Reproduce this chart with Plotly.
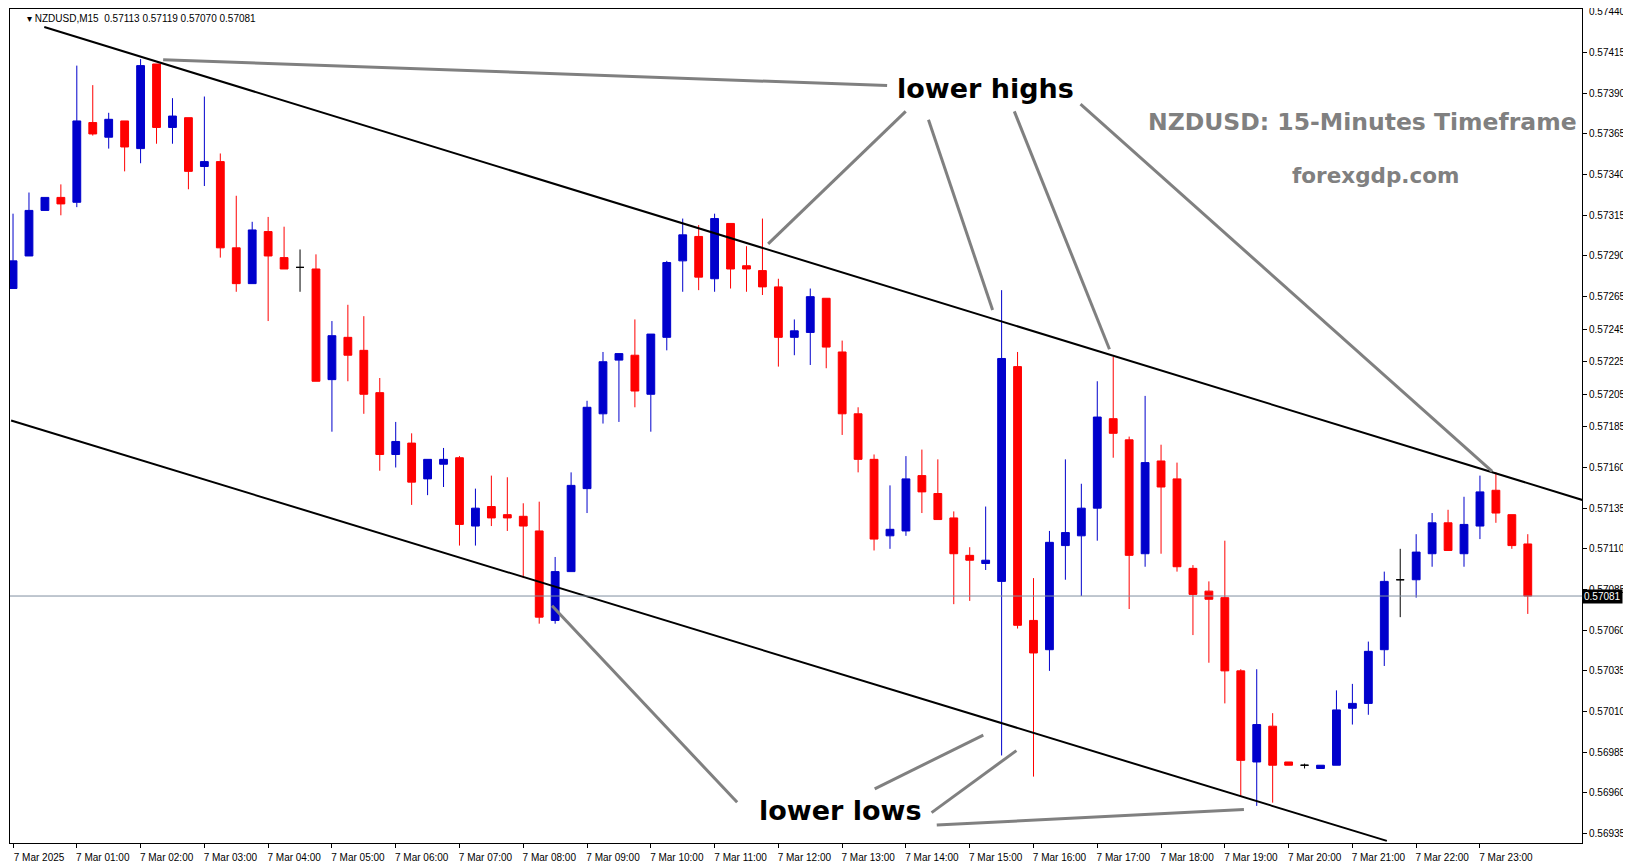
import plotly.graph_objects as go

# ---- data (NZDUSD M15, 7 Mar 2025, 00:00 .. 23:45) ----
opens = [0.57270,0.57290,0.57318,0.57326,0.57323,0.57372,0.57363,0.57373,0.57356,0.57408,
         0.57369,0.57375,0.57345,0.57348,0.57295,0.57273,0.57305,0.57289,0.57283,0.57282,
         0.57214,0.57240,0.57232,0.57206,0.57168,0.57175,0.57153,0.57162,0.57166,0.57124,
         0.57136,0.57131,0.57130,0.57121,0.57066,0.57096,0.57147,0.57193,0.57226,0.57229,
         0.57205,0.57240,0.57287,0.57302,0.57276,0.57310,0.57284,0.57281,0.57271,0.57240,
         0.57243,0.57264,0.57231,0.57193,0.57165,0.57118,0.57121,0.57155,0.57144,0.57129,
         0.57106,0.57101,0.57090,0.57222,0.57066,0.57048,0.57112,0.57118,0.57135,0.57190,
         0.57177,0.57107,0.57164,0.57153,0.57098,0.57084,0.57080,0.57035,0.56979,0.57001,
         0.56979,0.56977,0.56975,0.56977,0.57012,0.57015,0.57048,0.57091,0.57091,0.57107,
         0.57126,0.57107,0.57124,0.57146,0.57131,0.57113]
highs = [0.57316,0.57329,0.57326,0.57334,0.57407,0.57395,0.57378,0.57373,0.57411,0.57408,
         0.57387,0.57375,0.57388,0.57353,0.57327,0.57311,0.57314,0.57308,0.57294,0.57291,
         0.57250,0.57260,0.57253,0.57215,0.57188,0.57181,0.57165,0.57172,0.57167,0.57147,
         0.57155,0.57154,0.57138,0.57139,0.57105,0.57157,0.57201,0.57231,0.57230,0.57251,
         0.57242,0.57287,0.57313,0.57309,0.57316,0.57310,0.57296,0.57313,0.57276,0.57251,
         0.57270,0.57264,0.57238,0.57197,0.57168,0.57149,0.57167,0.57171,0.57165,0.57133,
         0.57111,0.57136,0.57269,0.57231,0.57092,0.57121,0.57165,0.57150,0.57213,0.57228,
         0.57179,0.57204,0.57174,0.57163,0.57100,0.57090,0.57115,0.57036,0.57036,0.57009,
         0.56979,0.56978,0.56977,0.57023,0.57027,0.57053,0.57096,0.57110,0.57119,0.57132,
         0.57134,0.57142,0.57155,0.57157,0.57131,0.57119]
lows  = [0.57270,0.57290,0.57318,0.57315,0.57320,0.57364,0.57356,0.57342,0.57347,0.57359,
         0.57359,0.57331,0.57333,0.57289,0.57268,0.57273,0.57250,0.57282,0.57268,0.57213,
         0.57182,0.57213,0.57193,0.57158,0.57160,0.57137,0.57143,0.57148,0.57112,0.57112,
         0.57124,0.57121,0.57092,0.57064,0.57064,0.57096,0.57132,0.57187,0.57188,0.57197,
         0.57182,0.57232,0.57268,0.57269,0.57268,0.57270,0.57268,0.57266,0.57222,0.57229,
         0.57223,0.57221,0.57180,0.57157,0.57109,0.57110,0.57118,0.57132,0.57128,0.57076,
         0.57078,0.57097,0.56983,0.57061,0.56970,0.57035,0.57091,0.57081,0.57115,0.57166,
         0.57073,0.57099,0.57107,0.57096,0.57057,0.57040,0.57015,0.56958,0.56952,0.56954,
         0.56977,0.56975,0.56975,0.56977,0.57002,0.57008,0.57038,0.57068,0.57080,0.57099,
         0.57109,0.57099,0.57116,0.57126,0.57110,0.57070]
closes = [0.57287,0.57318,0.57326,0.57322,0.57373,0.57365,0.57374,0.57357,0.57407,0.57369,
          0.57376,0.57342,0.57348,0.57295,0.57273,0.57306,0.57290,0.57282,0.57283,0.57213,
          0.57241,0.57229,0.57205,0.57168,0.57176,0.57151,0.57165,0.57165,0.57125,0.57135,
          0.57129,0.57129,0.57124,0.57068,0.57096,0.57149,0.57197,0.57225,0.57230,0.57207,
          0.57242,0.57286,0.57303,0.57277,0.57313,0.57282,0.57282,0.57271,0.57240,0.57244,
          0.57265,0.57234,0.57193,0.57165,0.57116,0.57122,0.57153,0.57145,0.57128,0.57107,
          0.57103,0.57103,0.57227,0.57063,0.57046,0.57114,0.57120,0.57135,0.57191,0.57181,
          0.57106,0.57163,0.57148,0.57099,0.57082,0.57079,0.57035,0.56980,0.57002,0.56977,
          0.56977,0.56977,0.56977,0.57011,0.57015,0.57047,0.57090,0.57091,0.57108,0.57126,
          0.57109,0.57125,0.57145,0.57132,0.57112,0.57081]
time_labels = ["7 Mar 2025"] + ["7 Mar %02d:00" % h for h in range(1, 24)]
price_ticks = [0.57440,0.57415,0.57390,0.57365,0.57340,0.57315,0.57290,0.57265,0.57245,0.57225,
               0.57205,0.57185,0.57160,0.57135,0.57110,0.57085,0.57060,0.57035,0.57010,0.56985,
               0.56960,0.56935]
last_price = 0.57081
# channel lines: (candle index, price) endpoints
upper_channel = [(1.96, 0.574307), (98.8, 0.571389)]
lower_channel = [(-0.12, 0.571889), (86.16, 0.569305)]

n = len(opens)
xs = list(range(n))
BLUE, RED = "#0000CC", "#FF0000"
FONT = "Liberation Sans"

doji = [i for i in xs if abs(opens[i] - closes[i]) < 1e-9]
norm = [i for i in xs if i not in doji]

fig = go.Figure()
fig.add_trace(go.Candlestick(
    x=[xs[i] for i in norm], open=[opens[i] for i in norm], high=[highs[i] for i in norm],
    low=[lows[i] for i in norm], close=[closes[i] for i in norm],
    increasing=dict(line=dict(color=BLUE, width=1), fillcolor=BLUE),
    decreasing=dict(line=dict(color=RED, width=1), fillcolor=RED),
    whiskerwidth=0, showlegend=False, hoverinfo="skip"))
fig.add_trace(go.Candlestick(
    x=[xs[i] for i in doji], open=[opens[i] for i in doji], high=[highs[i] for i in doji],
    low=[lows[i] for i in doji], close=[closes[i] for i in doji],
    increasing=dict(line=dict(color="black", width=1), fillcolor="black"),
    decreasing=dict(line=dict(color="black", width=1), fillcolor="black"),
    whiskerwidth=0, showlegend=False, hoverinfo="skip"))
for ln in (upper_channel, lower_channel):
    fig.add_trace(go.Scatter(x=[p[0] for p in ln], y=[p[1] for p in ln], mode="lines",
                             line=dict(color="black", width=2), showlegend=False, hoverinfo="skip"))

W, H = 1631, 861
L, R, T, B = 2, 57, 1, 26
S = 1631 / 1577  # pointer coords below were measured on a scaled view
def px(x, y):
    x, y = x * S, y * S
    return (x - L) / (W - L - R), 1 - (y - T) / (H - T - B)

pointers = [((150, 50), (850, 75)), ((735, 228), (868, 100)), ((952, 292), (890, 108)),
            ((1065, 330), (973, 100)), ((1435, 448), (1037, 93)), ((526, 578), (705, 768)),
            ((838, 755), (943, 703)), ((893, 778), (975, 718)), ((898, 790), (1195, 775))]
shapes = []
for a, b in pointers:
    x0, y0 = px(*a); x1, y1 = px(*b)
    shapes.append(dict(type="line", xref="paper", yref="paper", x0=x0, y0=y0, x1=x1, y1=y1,
                       line=dict(color="#808080", width=3)))
shapes.append(dict(type="line", xref="paper", yref="y", x0=0, x1=1, y0=last_price, y1=last_price,
                   line=dict(color="#8090A0", width=1)))

annotations = []
def txt(x, y, t, size, color, bold=True, anchor="center", family="DejaVu Sans"):
    xp, yp = px(x, y)
    annotations.append(dict(xref="paper", yref="paper", x=xp, y=yp, text=("<b>%s</b>" % t) if bold else t,
                            showarrow=False, xanchor=anchor, yanchor="middle",
                            font=dict(size=size, color=color, family=family)))
txt(945, 78, "lower highs", 27, "black")
txt(805, 776, "lower lows", 27, "black")
txt(1310, 110, "NZDUSD: 15-Minutes Timeframe", 23.5, "#808080")
txt(1322, 162, "forexgdp.com", 21.5, "#808080")
txt(16, 10, "▾ NZDUSD,M15  %.5f %.5f %.5f %.5f" % (opens[-1], highs[-1], lows[-1], closes[-1]),
    10, "black", bold=False, anchor="left", family=FONT)
annotations.append(dict(xref="paper", yref="y", x=1.0, y=last_price, text="%.5f" % last_price,
                        showarrow=False, xanchor="left", yanchor="middle", bgcolor="black",
                        font=dict(size=10, color="white", family=FONT), borderpad=1))
# top price label (kept as an annotation so it is not dropped at the edge)
annotations.append(dict(xref="paper", yref="y", x=1.0, y=price_ticks[0], text="%.5f" % price_ticks[0],
                        showarrow=False, xanchor="left", yanchor="middle", xshift=5,
                        font=dict(size=10, color="black", family=FONT)))

fig.update_layout(
    width=W, height=H, margin=dict(l=L, r=R, t=T, b=B, autoexpand=False),
    plot_bgcolor="white", paper_bgcolor="white",
    shapes=shapes, annotations=annotations,
    xaxis=dict(range=[-0.19, 98.4], rangeslider=dict(visible=False), showgrid=False, zeroline=False,
               tickvals=list(range(0, n, 4)), ticktext=time_labels, ticks="outside", ticklen=4,
               tickcolor="black", showline=True, linecolor="black", mirror=True, linewidth=1,
               tickangle=0, automargin=False, ticklabelshift=26, ticklabelstandoff=1,
               tickfont=dict(size=10, family=FONT, color="black")),
    yaxis=dict(range=[0.569292, 0.574418], side="right", showgrid=False, zeroline=False,
               tickvals=price_ticks[1:], ticktext=["%.5f" % v for v in price_ticks[1:]], ticks="outside",
               ticklen=4, tickcolor="black", showline=True, linecolor="black", mirror=True,
               linewidth=1, automargin=False,
               tickfont=dict(size=10, family=FONT, color="black")),
)
fig.write_html("out.html")
